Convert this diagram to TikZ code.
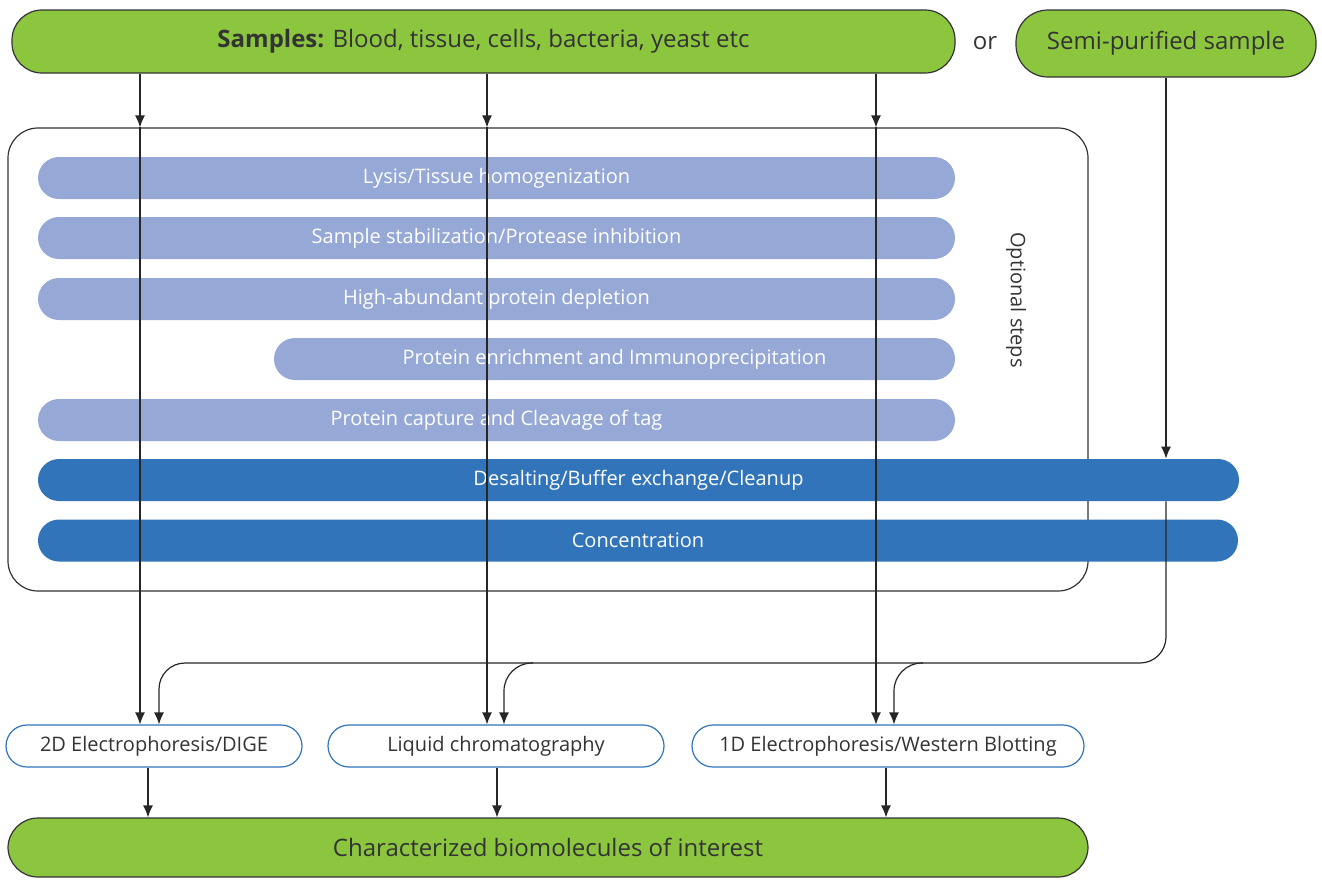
\documentclass[tikz,border=0pt]{standalone}
\usepackage{fontspec}
\setmainfont{Open Sans}
\usetikzlibrary{arrows.meta,shapes.misc,positioning}
\definecolor{verde}{HTML}{8CC63F}
\definecolor{azulclaro}{HTML}{95A8D6}
\definecolor{azul}{HTML}{3174BA}
\definecolor{texto}{HTML}{333333}

\tikzset{
  muestra/.style={draw=black!80, fill=verde, rounded corners=15pt, line width=0.6pt,
    text=texto, font=\fontsize{12}{14}\selectfont},
  paso/.style={rounded rectangle, fill=azulclaro, text=white, minimum height=21pt,
    inner sep=0pt, font=\fontsize{10}{12}\selectfont},
  pasofijo/.style={paso, fill=azul},
  tecnica/.style={rounded rectangle, draw=azul, fill=white, line width=0.6pt,
    minimum height=21pt, inner sep=0pt, text=texto, font=\fontsize{10}{12}\selectfont},
  flecha/.style={-{Latex[length=6pt,width=5pt]}, line width=0.6pt, black!85},
}

\begin{document}
\begin{tikzpicture}[x=0.5pt,y=-0.5pt]
  % Ventana
  \useasboundingbox (0,0) rectangle (1322,879);

  % Muestras de partida
  \node[muestra, minimum width=471.5pt, minimum height=31.5pt] (muestras) at (483.5,41.5)
    {\textbf{Samples:} Blood, tissue, cells, bacteria, yeast etc};
  \node[text=texto, font=\fontsize{12}{14}\selectfont] (o) at (985,43) {or};
  \node[muestra, minimum width=150pt, minimum height=33.5pt, rounded corners=16pt] (semi)
    at (1166,43.5) {Semi-purified sample};

  % Caja de pasos opcionales
  \node[draw=black!80, line width=0.6pt, rounded corners=15pt, minimum width=540pt,
    minimum height=231.5pt] (opcional) at (548,359.5) {};
  \node[rotate=-90, text=texto, font=\fontsize{10}{12}\selectfont] (etiqueta) at (1016,300)
    {Optional steps};

  % Pasos
  \node[paso, minimum width=458.5pt] (lisis) at (496.5,178) {Lysis/Tissue homogenization};
  \node[paso, minimum width=458.5pt] (estab) at (496.5,238) {Sample stabilization/Protease inhibition};
  \node[paso, minimum width=458.5pt] (deplecion) at (496.5,299) {High-abundant protein depletion};
  \node[paso, minimum width=340.5pt] (enriq) at (614.5,359) {Protein enrichment and Immunoprecipitation};
  \node[paso, minimum width=458.5pt] (captura) at (496.5,420) {Protein capture and Cleavage of tag};
  \node[pasofijo, minimum width=600.5pt] (desalado) at (638.5,480) {Desalting/Buffer exchange/Cleanup};
  \node[pasofijo, minimum width=600pt] (concen) at (638,540.5) {Concentration};

  % Tecnicas de analisis
  \node[tecnica, minimum width=148pt] (dige) at (154,746) {2D Electrophoresis/DIGE};
  \node[tecnica, minimum width=168pt] (lc) at (496,746) {Liquid chromatography};
  \node[tecnica, minimum width=196pt] (wb) at (888,746) {1D Electrophoresis/Western Blotting};

  % Resultado
  \node[muestra, minimum width=540pt, minimum height=29.5pt] (final) at (548,847.5)
    {Characterized biomolecules of interest};

  % Flujos verticales desde las muestras
  \foreach \x/\b/\dst [count=\i] in {140/148/dige,487/497/lc,876/886/wb}{
    \coordinate (v\i) at (\x,0);
    \coordinate (b\i) at (\b,0);
    \draw[flecha] (muestras.south -| v\i) -- (opcional.north -| v\i);
    \draw[flecha] (opcional.north -| v\i) -- (\dst.north -| v\i);
    \draw[flecha] (\dst.south -| b\i) -- (final.north -| b\i);
  }

  % Muestra semipurificada
  \coordinate (bus) at (1166,663);
  \coordinate (d1) at (159,0);
  \coordinate (d2) at (504,0);
  \coordinate (d3) at (894,0);
  \coordinate (r2) at (533,0);
  \coordinate (r3) at (923,0);
  \draw[flecha] (semi.south) -- (desalado.north -| semi.south);
  \draw[flecha, rounded corners=13pt] (desalado.south -| semi.south) -- (bus)
    -- (bus -| d1) -- (dige.north -| d1);
  \draw[flecha, rounded corners=14pt] (bus -| r2) -- (bus -| d2) -- (lc.north -| d2);
  \draw[flecha, rounded corners=14pt] (bus -| r3) -- (bus -| d3) -- (wb.north -| d3);
\end{tikzpicture}
\end{document}
